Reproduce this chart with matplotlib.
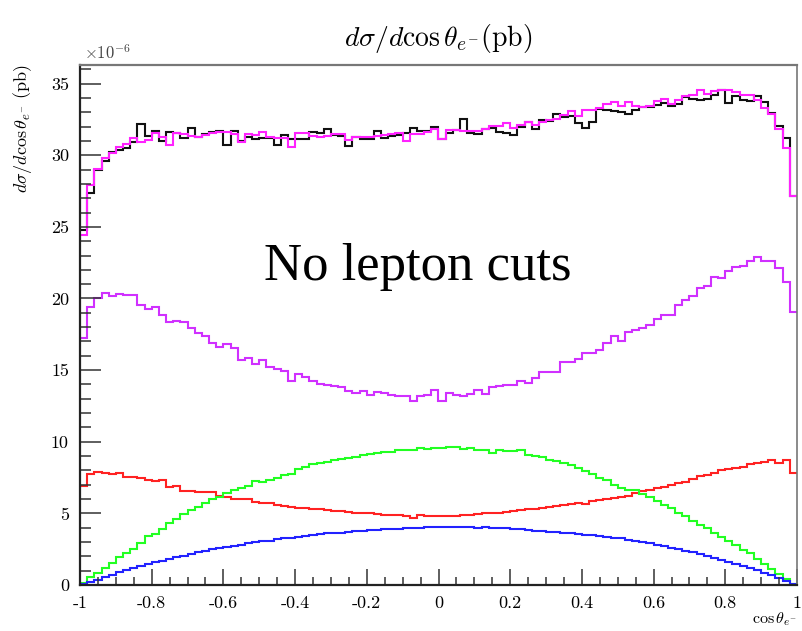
import numpy as np
import matplotlib
matplotlib.use('Agg')
import matplotlib.pyplot as plt
from matplotlib.ticker import MultipleLocator, FuncFormatter

plt.rcParams['mathtext.fontset'] = 'cm'
plt.rcParams['axes.unicode_minus'] = False

# 100 bins in cos(theta_e-) from -1 to 1, values in units of 1e-6 pb
edges = np.linspace(-1, 1, 101)

black = [
    24.8, 27.35, 29.0, 29.63, 30.2, 30.4, 30.5, 30.9, 32.2, 31.37,
    31.67, 30.98, 31.63, 31.56, 31.2, 31.9, 31.28, 31.5, 31.6, 31.67,
    30.74, 31.67, 30.98, 31.28, 31.14, 31.2, 31.2, 30.74, 31.44, 31.1,
    31.1, 31.14, 31.63, 31.56, 31.84, 31.44, 31.37, 30.63, 31.28, 31.14,
    31.14, 31.67, 31.2, 31.33, 31.44, 31.56, 31.9, 31.67, 31.67, 32.0,
    31.14, 31.56, 31.74, 32.53, 31.56, 31.51, 31.84, 31.9, 31.6, 31.56,
    31.44, 32.0, 32.3, 31.8, 32.44, 32.37, 32.9, 32.67, 32.77, 32.26,
    31.9, 32.3, 33.26, 33.14, 33.12, 33.02, 32.9, 33.19, 33.37, 33.37,
    33.53, 33.65, 33.47, 33.6, 34.07, 33.93, 33.84, 33.93, 34.23, 34.58,
    33.65, 34.12, 33.84, 33.77, 34.16, 33.7, 32.95, 32.07, 31.21, 27.14]

magenta = [
    24.4, 27.9, 29.05, 29.8, 30.15, 30.55, 30.8, 31.2, 30.95, 31.05,
    31.55, 31.25, 30.75, 31.55, 31.45, 31.35, 31.3, 31.4, 31.55, 31.6,
    31.6, 31.5, 30.93, 31.45, 31.4, 31.65, 31.25, 31.2, 31.2, 30.6,
    31.55, 31.55, 31.35, 31.3, 31.35, 31.45, 31.45, 31.05, 31.3, 31.3,
    31.3, 31.35, 31.4, 31.5, 31.55, 31.02, 31.5, 31.5, 31.6, 31.8,
    31.14, 31.79, 31.79, 31.67, 31.67, 31.67, 31.84, 32.02, 32.07, 32.26,
    31.9, 32.14, 32.3, 32.14, 32.3, 32.44, 32.53, 32.84, 33.07, 32.77,
    33.14, 33.14, 33.3, 33.6, 33.7, 33.42, 33.7, 33.42, 33.37, 33.42,
    33.77, 33.93, 33.6, 33.88, 34.16, 34.23, 34.58, 34.3, 34.47, 34.58,
    34.58, 34.4, 34.23, 34.23, 33.84, 33.3, 32.9, 31.84, 30.51, 27.14]

violet = [
    17.26, 19.42, 20.0, 20.37, 20.19, 20.28, 20.26, 20.21, 19.58, 19.3,
    19.4, 18.82, 18.33, 18.42, 18.38, 17.91, 17.61, 17.4, 16.87, 16.63,
    16.8, 16.54, 15.72, 15.84, 15.44, 15.7, 15.23, 15.1, 14.93, 14.26,
    14.72, 14.54, 14.26, 14.03, 13.96, 13.89, 13.82, 13.54, 13.38, 13.52,
    13.24, 13.49, 13.38, 13.28, 13.21, 13.21, 12.84, 13.21, 13.24, 13.59,
    12.86, 13.38, 13.28, 13.19, 13.35, 13.59, 13.33, 13.82, 13.89, 13.93,
    13.98, 14.21, 14.07, 14.42, 14.86, 14.86, 14.86, 15.6, 15.6, 15.77,
    16.17, 16.17, 16.4, 16.87, 17.38, 17.05, 17.63, 17.79, 17.93, 18.12,
    18.54, 18.88, 18.86, 19.52, 19.89, 20.17, 20.75, 20.86, 21.47, 21.4,
    21.93, 22.21, 22.26, 22.63, 22.87, 22.59, 22.61, 22.1, 21.12, 19.07]

green = [
    0.12, 0.54, 0.86, 1.16, 1.51, 1.93, 2.21, 2.49, 2.91, 3.42,
    3.53, 3.88, 4.35, 4.63, 4.93, 5.23, 5.42, 5.7, 6.0, 6.12,
    6.4, 6.63, 6.75, 6.93, 7.26, 7.21, 7.35, 7.5, 7.7, 7.75,
    8.1, 8.25, 8.45, 8.5, 8.6, 8.7, 8.8, 8.85, 8.95, 9.05,
    9.15, 9.2, 9.3, 9.3, 9.4, 9.45, 9.45, 9.55, 9.5, 9.55,
    9.55, 9.6, 9.6, 9.5, 9.55, 9.45, 9.45, 9.2, 9.45, 9.35,
    9.35, 9.4, 9.05, 9.0, 8.95, 8.7, 8.65, 8.55, 8.35, 8.2,
    7.95, 7.75, 7.5, 7.3, 7.0, 6.8, 6.65, 6.6, 6.35, 6.15,
    5.85, 5.6, 5.35, 5.05, 4.8, 4.5, 4.2, 3.95, 3.6, 3.35,
    3.1, 2.8, 2.45, 2.2, 1.8, 1.5, 1.15, 0.8, 0.45, 0.1]

red = [
    6.93, 7.75, 7.86, 7.84, 7.77, 7.79, 7.56, 7.54, 7.47, 7.33,
    7.24, 7.31, 6.86, 6.88, 6.58, 6.56, 6.47, 6.49, 6.51, 6.21,
    6.12, 6.03, 5.98, 6.0, 5.82, 5.75, 5.7, 5.6, 5.5, 5.45,
    5.35, 5.35, 5.3, 5.28, 5.25, 5.2, 5.15, 5.1, 5.05, 5.0,
    5.0, 4.95, 4.9, 4.88, 4.9, 4.85, 4.7, 4.88, 4.85, 4.82,
    4.8, 4.82, 4.85, 4.9, 4.92, 4.95, 5.0, 5.0, 5.05, 5.1,
    5.2, 5.25, 5.3, 5.3, 5.38, 5.42, 5.51, 5.58, 5.65, 5.75,
    5.65, 5.86, 5.93, 6.0, 6.05, 6.12, 6.21, 6.4, 6.56, 6.63,
    6.75, 6.86, 6.98, 7.1, 7.21, 7.37, 7.61, 7.68, 7.84, 8.03,
    8.08, 8.2, 8.26, 8.44, 8.49, 8.61, 8.72, 8.54, 8.72, 7.79]

blue = [
    0.07, 0.22, 0.38, 0.55, 0.72, 0.88, 1.02, 1.17, 1.32, 1.45,
    1.58, 1.7, 1.82, 1.95, 2.05, 2.17, 2.28, 2.38, 2.48, 2.57,
    2.66, 2.74, 2.82, 2.9, 2.97, 3.04, 3.1, 3.18, 3.25, 3.3,
    3.38, 3.45, 3.5, 3.55, 3.6, 3.62, 3.65, 3.7, 3.75, 3.8,
    3.82, 3.85, 3.9, 3.92, 3.92, 3.98, 4.0, 3.98, 4.02, 4.05,
    4.05, 4.05, 4.07, 4.05, 4.02, 4.0, 4.02, 3.98, 3.95, 3.95,
    3.93, 3.9, 3.85, 3.8, 3.75, 3.7, 3.68, 3.62, 3.6, 3.57,
    3.5, 3.47, 3.42, 3.37, 3.3, 3.25, 3.16, 3.08, 2.98, 2.9,
    2.8, 2.7, 2.6, 2.5, 2.4, 2.28, 2.16, 2.03, 1.9, 1.78,
    1.64, 1.5, 1.34, 1.18, 1.02, 0.86, 0.68, 0.5, 0.3, 0.1]

series = [(black, '#111111'), (magenta, '#ff22ff'), (violet, '#d030ff'),
          (red, '#ff2222'), (green, '#22ff22'), (blue, '#2222ff')]

fig = plt.figure(figsize=(8.03, 6.31), dpi=100)
ax = fig.add_axes([80 / 803, 46 / 631, 717 / 803, 520 / 631])

for vals, col in series:
    ax.stairs(vals, edges, baseline=None, color=col, linewidth=1.5)

ax.set_xlim(-1, 1)
ax.set_ylim(0, 36.3)

# ROOT-like axes: ticks inside, only on left and bottom
ax.xaxis.set_major_locator(MultipleLocator(0.2))
ax.xaxis.set_minor_locator(MultipleLocator(0.05))
ax.yaxis.set_major_locator(MultipleLocator(5))
ax.yaxis.set_minor_locator(MultipleLocator(1))
fmt = FuncFormatter(lambda v, p: '%g' % round(v, 2))
ax.xaxis.set_major_formatter(fmt)
ax.yaxis.set_major_formatter(fmt)
ax.tick_params(axis='x', which='major', direction='in', length=11.5, width=1.1,
               color='#333333', pad=8, labelsize=13)
ax.tick_params(axis='x', which='minor', direction='in', length=6, width=1.1,
               color='#333333')
ax.tick_params(axis='y', which='major', direction='in', length=15, width=1.1,
               color='#333333', pad=8, labelsize=13)
ax.tick_params(axis='y', which='minor', direction='in', length=8, width=1.1,
               color='#333333')
for lab in ax.get_xticklabels() + ax.get_yticklabels():
    lab.set_fontfamily('cmr10')

for side in ['left', 'bottom']:
    ax.spines[side].set_linewidth(1.6)
    ax.spines[side].set_color('#222222')
ax.spines['top'].set_linewidth(1.6)
ax.spines['top'].set_color('#777777')
ax.spines['right'].set_linewidth(1.2)
ax.spines['right'].set_color('#777777')

ax.set_title(r'$d\sigma/d\cos\theta_{e^{-}}(\mathrm{pb})$', fontsize=20, pad=14)
ax.set_ylabel(r'$d\sigma/d\cos\theta_{e^{-}}\ (\mathrm{pb})$', fontsize=13,
              loc='top', labelpad=12)
ax.set_xlabel(r'$\cos\theta_{e^{-}}$', fontsize=11.5)
ax.xaxis.set_label_coords(1.0, -0.066)
ax.xaxis.label.set_horizontalalignment('right')
ax.xaxis.label.set_verticalalignment('center')

ax.text(0.006, 1.003, r'$\times10^{-6}$', transform=ax.transAxes, fontsize=12,
        color='#444444', ha='left', va='bottom')

ax.text(0.471, 0.587, 'No lepton cuts', transform=ax.transAxes,
        fontsize=38, family='Liberation Serif', ha='center', va='baseline')

fig.savefig('out.png', dpi=100)
